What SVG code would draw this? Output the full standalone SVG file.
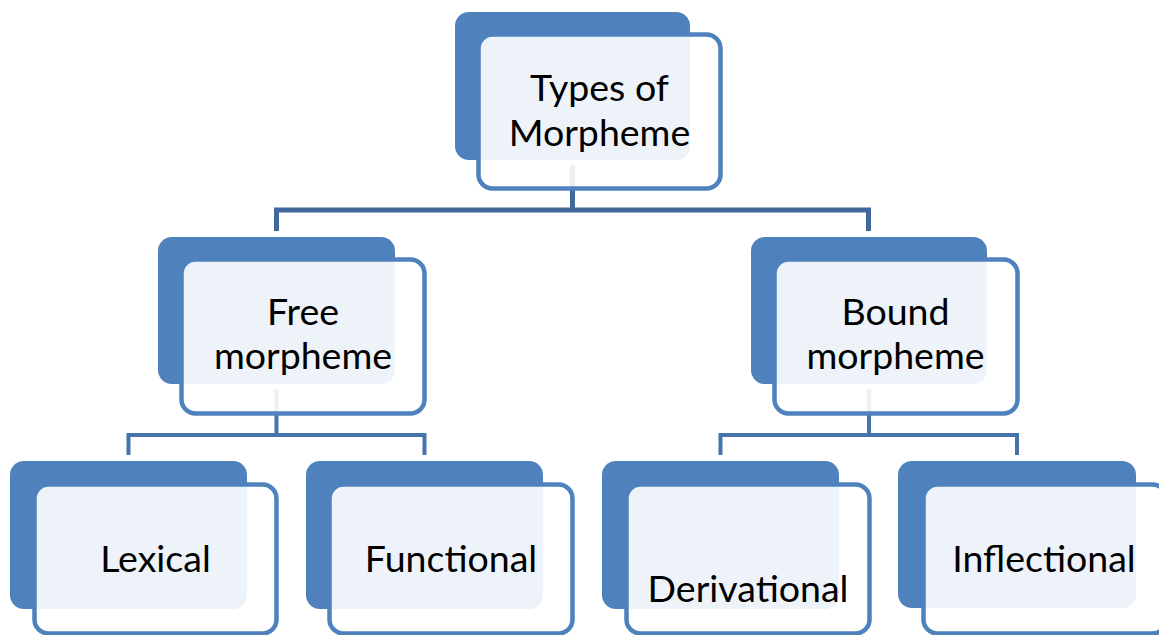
<svg xmlns="http://www.w3.org/2000/svg" width="1159" height="635" viewBox="0 0 1159 635">
<style>
.back{fill:#4F81BD;}
.front{fill:#FFFFFF;fill-opacity:0.9;stroke:#4F81BD;stroke-width:4.5;}
.c1{fill:none;stroke:#41689C;stroke-width:5;}
.c2{fill:none;stroke:#4673AC;stroke-width:4;}
text{font-family:Lato,"Open Sans","Liberation Sans",sans-serif;font-size:37.5px;fill:#000000;text-anchor:middle;}
</style>
<rect width="1159" height="635" fill="#FFFFFF"/>
<g id="connectors">
<path class="c1" d="M276.5,231 V210 H868.5 V231 M572.5,165 V210"/>
<path class="c2" d="M128.5,455 V435 H424.5 V455 M276.5,389 V435"/>
<path class="c2" d="M720.5,455 V435 H1017 V455 M869,389 V435"/>
</g>
<g id="node-types">
<rect class="back" x="455" y="12" width="235" height="148" rx="14"/>
<rect class="front" x="478.5" y="34.5" width="242" height="154" rx="14"/>
<text x="599.5" y="101">Types of</text>
<text x="599.5" y="146">Morpheme</text>
</g>
<g id="node-free">
<rect class="back" x="158" y="237" width="237" height="147" rx="14"/>
<rect class="front" x="181.5" y="259.5" width="243" height="154" rx="14"/>
<text x="303" y="325">Free</text>
<text x="303" y="369">morpheme</text>
</g>
<g id="node-bound">
<rect class="back" x="751" y="237" width="236" height="147" rx="14"/>
<rect class="front" x="774.5" y="259.5" width="243" height="154" rx="14"/>
<text x="895.5" y="325">Bound</text>
<text x="895.5" y="369">morpheme</text>
</g>
<g id="node-lexical">
<rect class="back" x="10" y="461" width="237" height="148" rx="14"/>
<rect class="front" x="34.5" y="484.5" width="242" height="149" rx="14"/>
<text x="155.5" y="572">Lexical</text>
</g>
<g id="node-functional">
<rect class="back" x="306" y="461" width="237" height="148" rx="14"/>
<rect class="front" x="329.5" y="484.5" width="243" height="149" rx="14"/>
<text x="451" y="572">Functional</text>
</g>
<g id="node-derivational">
<rect class="back" x="602" y="461" width="237" height="148" rx="14"/>
<rect class="front" x="626.5" y="484.5" width="243" height="149" rx="14"/>
<text x="748" y="602">Derivational</text>
</g>
<g id="node-inflectional">
<rect class="back" x="898" y="461" width="238" height="147" rx="14"/>
<rect class="front" x="923.5" y="484.5" width="243" height="149" rx="14"/>
<text x="1044" y="572">Inflectional</text>
</g>
</svg>
